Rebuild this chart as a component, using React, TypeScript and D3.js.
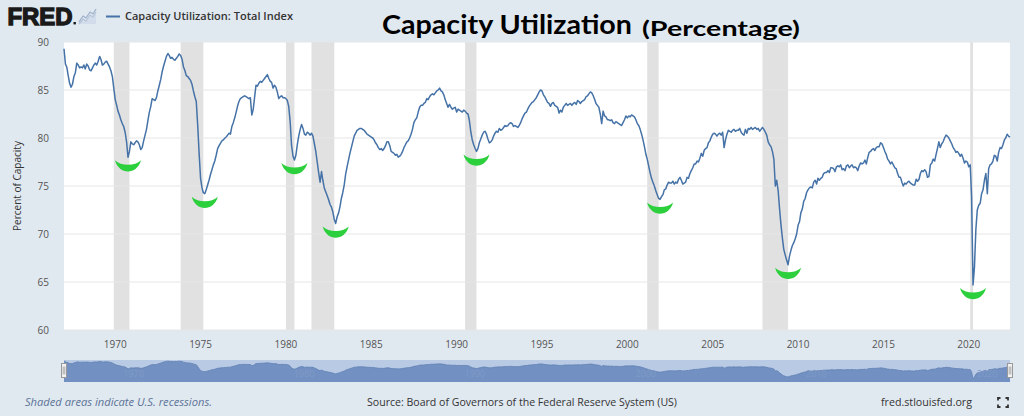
import React from "react";
import * as d3 from "d3";

const WIDTH = 1024;
const HEIGHT = 416;

// Capacity Utilization: Total Index, percent of capacity, monthly from January 1967
const startYear = 1967;
const utilization: number[] = [
  89.3, 87.7, 87.4, 86.5, 85.7, 85.3, 85.6, 86.4, 86.8, 87.8, 87.6, 87.3, // 1967
  87.4, 87.3, 87.6, 87.2, 87.7, 87.5, 87.1, 87.0, 87.3, 87.6, 87.8, 87.6, // 1968
  88.0, 88.5, 88.2, 87.6, 87.7, 87.9, 88.0, 87.7, 87.4, 87.0, 86.4, 85.2, // 1969
  84.0, 83.4, 82.8, 82.4, 81.9, 81.5, 81.2, 80.6, 79.6, 78.0, 78.6, 79.6, // 1970
  79.4, 79.3, 79.5, 79.7, 79.6, 79.3, 78.8, 79.0, 79.7, 80.3, 80.9, 81.8, // 1971
  82.7, 83.3, 84.1, 84.0, 83.9, 84.2, 84.9, 85.5, 86.1, 86.9, 87.5, 88.0, // 1972
  88.5, 88.8, 88.6, 88.3, 88.4, 88.2, 88.1, 88.3, 88.5, 88.75, 88.6, 88.2, // 1973
  87.4, 87.0, 86.5, 86.4, 86.2, 86.0, 85.6, 84.9, 84.3, 83.8, 81.3, 78.4, // 1974
  75.8, 74.8, 74.3, 74.2, 74.6, 75.1, 75.6, 76.2, 76.7, 77.2, 77.6, 78.2, // 1975
  78.9, 79.2, 79.45, 79.7, 79.8, 79.97, 80.1, 80.3, 80.5, 80.4, 81.2, 81.6, // 1976
  82.1, 82.7, 83.3, 83.8, 84.1, 84.2, 84.3, 84.4, 84.3, 84.2, 84.1, 84.2, // 1977
  82.4, 83.0, 84.2, 85.5, 85.4, 85.7, 85.9, 85.8, 86.0, 86.2, 86.4, 86.6, // 1978
  86.2, 85.9, 85.8, 85.2, 85.5, 85.3, 84.8, 84.1, 84.3, 84.4, 84.2, 84.2, // 1979
  84.1, 83.9, 83.3, 81.7, 79.2, 78.1, 77.7, 78.2, 79.3, 80.2, 80.9, 81.4, // 1980
  81.0, 80.4, 80.3, 80.6, 80.5, 80.3, 80.5, 80.2, 79.4, 78.6, 77.5, 76.4, // 1981
  75.4, 76.5, 75.6, 74.8, 74.4, 74.0, 73.6, 73.1, 72.8, 72.3, 71.5, 71.1, // 1982
  71.8, 72.2, 72.8, 73.7, 74.3, 75.1, 76.2, 77.0, 77.7, 78.4, 79.0, 79.6, // 1983
  80.2, 80.5, 80.8, 80.9, 81.0, 81.0, 80.9, 80.8, 80.6, 80.4, 80.3, 80.2, // 1984
  80.1, 80.0, 79.8, 79.5, 79.3, 79.0, 78.8, 78.9, 78.7, 78.9, 79.2, 79.6, // 1985
  79.6, 79.2, 78.6, 78.5, 78.4, 78.2, 78.3, 78.0, 78.1, 78.3, 78.6, 79.0, // 1986
  79.3, 79.6, 79.7, 80.0, 80.4, 80.9, 81.6, 81.9, 82.1, 82.7, 83.2, 83.4, // 1987
  83.4, 83.6, 83.7, 84.1, 84.0, 84.3, 84.5, 84.6, 84.5, 84.7, 84.9, 85.0, // 1988
  85.2, 84.9, 84.8, 84.5, 84.0, 83.6, 83.2, 83.5, 83.2, 83.0, 83.1, 83.2, // 1989
  82.7, 83.0, 82.9, 82.8, 82.7, 82.9, 82.8, 82.6, 82.5, 81.8, 80.6, 79.8, // 1990
  79.3, 78.9, 78.6, 78.9, 79.5, 79.9, 80.3, 80.6, 80.7, 80.4, 79.9, 79.5, // 1991
  79.6, 79.8, 80.2, 80.5, 80.7, 80.6, 81.0, 80.8, 80.9, 81.1, 81.3, 81.2, // 1992
  81.3, 81.5, 81.6, 81.5, 81.2, 81.3, 81.2, 81.1, 81.3, 81.6, 82.0, 82.3, // 1993
  82.6, 82.7, 83.0, 83.3, 83.5, 83.7, 83.8, 84.0, 84.2, 84.5, 84.8, 85.0, // 1994
  84.9, 84.5, 84.3, 84.0, 83.7, 83.6, 83.3, 83.6, 83.7, 83.4, 83.3, 83.2, // 1995
  82.6, 82.9, 82.7, 83.2, 83.4, 83.6, 83.4, 83.5, 83.6, 83.4, 83.6, 83.7, // 1996
  83.5, 83.9, 83.8, 83.6, 83.8, 83.9, 84.0, 84.3, 84.4, 84.6, 84.8, 84.7, // 1997
  84.4, 84.0, 83.6, 83.4, 83.2, 82.5, 81.5, 82.8, 82.3, 82.2, 81.9, 81.9, // 1998
  81.8, 81.9, 81.6, 81.5, 81.7, 81.6, 81.5, 81.4, 81.3, 81.6, 81.9, 82.3, // 1999
  82.1, 82.3, 82.2, 82.4, 82.3, 82.2, 81.9, 81.5, 81.3, 80.9, 80.4, 79.8, // 2000
  79.1, 78.3, 77.8, 77.1, 76.4, 75.8, 75.4, 75.0, 74.5, 74.1, 73.7, 73.6, // 2001
  73.9, 74.1, 74.6, 74.7, 75.1, 75.4, 75.3, 75.3, 75.5, 75.2, 75.4, 75.3, // 2002
  75.7, 75.9, 75.6, 75.2, 75.3, 75.4, 75.9, 75.8, 76.3, 76.6, 76.9, 77.3, // 2003
  77.3, 77.6, 77.5, 77.9, 78.4, 78.1, 78.7, 78.9, 79.0, 79.5, 79.7, 80.1, // 2004
  80.4, 80.5, 80.4, 80.2, 80.4, 80.5, 80.3, 80.6, 79.0, 79.8, 80.4, 80.8, // 2005
  80.7, 80.6, 80.8, 80.9, 80.7, 80.8, 80.8, 81.0, 80.6, 80.4, 80.3, 80.9, // 2006
  80.5, 81.0, 80.9, 81.1, 80.9, 81.0, 81.1, 80.9, 81.0, 80.7, 80.9, 81.1, // 2007
  80.9, 80.6, 80.3, 79.6, 79.3, 79.1, 78.6, 77.8, 75.0, 75.6, 74.5, 72.6, // 2008
  70.9, 69.5, 68.4, 67.8, 67.3, 66.8, 67.7, 68.3, 68.8, 69.1, 69.5, 70.0, // 2009
  70.9, 71.3, 72.2, 72.6, 73.4, 73.7, 74.3, 74.6, 74.8, 74.9, 74.8, 75.4, // 2010
  75.6, 75.2, 75.8, 75.6, 75.8, 75.9, 76.3, 76.4, 76.4, 76.6, 76.4, 76.9, // 2011
  76.9, 76.8, 76.5, 77.0, 77.1, 77.0, 77.2, 76.7, 76.8, 76.6, 77.1, 77.2, // 2012
  76.9, 77.1, 77.2, 76.9, 77.0, 76.9, 76.6, 77.1, 77.4, 77.3, 77.4, 77.7, // 2013
  77.3, 78.0, 78.5, 78.6, 78.8, 78.9, 78.7, 79.0, 79.1, 79.1, 79.5, 79.4, // 2014
  79.0, 78.6, 78.3, 77.8, 77.6, 77.3, 77.5, 77.2, 76.9, 76.8, 76.3, 75.9, // 2015
  75.9, 75.4, 75.0, 75.3, 75.2, 75.4, 75.5, 75.3, 75.2, 75.1, 75.1, 75.7, // 2016
  75.5, 75.7, 76.3, 76.6, 76.5, 76.7, 76.5, 75.9, 76.0, 77.2, 77.4, 77.8, // 2017
  77.6, 78.3, 78.9, 79.6, 79.0, 79.4, 79.6, 80.0, 80.3, 80.2, 80.0, 79.7, // 2018
  79.4, 79.0, 78.8, 78.5, 78.6, 78.4, 78.1, 78.3, 77.9, 77.4, 77.6, 77.5, // 2019
  77.0, 77.2, 73.9, 64.7, 66.5, 70.5, 72.5, 73.0, 73.2, 74.2, 74.6, 75.6, // 2020
  76.3, 74.2, 76.8, 77.2, 77.3, 77.6, 78.2, 78.1, 77.6, 78.5, 79.0, 78.9, // 2021
  79.3, 79.8, 80.0, 80.4, 80.2, 80.1, // 2022
];

// NBER recessions, peak month to trough month
const recessionStarts = ["1969-12", "1973-11", "1980-01", "1981-07", "1990-07", "2001-03", "2007-12", "2020-02"];
const recessionEnds = ["1970-11", "1975-03", "1980-07", "1982-11", "1991-03", "2001-11", "2009-06", "2020-04"];

// Months near each cyclical low that get a green mark underneath
const lowMonths = ["1970-10", "1975-04", "1980-07", "1982-12", "1991-03", "2001-12", "2009-06", "2020-04"];

const yTicks = [60, 65, 70, 75, 80, 85, 90];
const xTickYears = [1970, 1975, 1980, 1985, 1990, 1995, 2000, 2005, 2010, 2015, 2020];
const navLabelYears = [1970, 1980, 1990, 2000, 2010, 2020];

const seriesTitle = "Capacity Utilization: Total Index";
const chartTitle = "Capacity Utilization";
const chartSubtitle = "(Percentage)";
const yAxisTitle = "Percent of Capacity";
const recessionNote = "Shaded areas indicate U.S. recessions.";
const sourceNote = "Source: Board of Governors of the Federal Reserve System (US)";
const siteNote = "fred.stlouisfed.org";

const parseMonth = d3.timeParse("%Y-%m");

const FONT = "'Open Sans', 'Noto Sans', sans-serif";
const LINE_COLOR = "#4572a7";

export default function App() {
  React.useEffect(() => {
    document.body.style.margin = "0";
    document.body.style.overflow = "hidden";
  }, []);

  const plot = { left: 64, right: 1010, top: 42, bottom: 330 };
  const nav = { top: 360, bottom: 382 };

  const dates = utilization.map((_, i) => new Date(startYear, i, 1));

  const x = d3
    .scaleTime()
    .domain([dates[0], dates[dates.length - 1]])
    .range([plot.left, plot.right]);
  const y = d3.scaleLinear().domain([60, 90]).range([plot.bottom, plot.top]);

  const line = d3
    .line<number>()
    .x((_, i) => x(dates[i]))
    .y((d) => y(d));

  const [vMin, vMax] = d3.extent(utilization) as [number, number];
  const navY = d3.scaleLinear().domain([vMin, vMax]).range([nav.bottom - 3.5, nav.top + 0.8]);
  const navArea = d3
    .area<number>()
    .x((_, i) => x(dates[i]))
    .y0(nav.bottom)
    .y1((d) => navY(d));
  const navLine = d3
    .line<number>()
    .x((_, i) => x(dates[i]))
    .y((d) => navY(d));

  // Green crescent under each cyclical low
  const lows = lowMonths.map((m) => {
    const t = parseMonth(m)!;
    const center = d3.minIndex(dates, (d) => Math.abs(+d - +t));
    let best = center;
    for (let k = Math.max(0, center - 3); k <= Math.min(utilization.length - 1, center + 3); k++) {
      if (utilization[k] < utilization[best]) best = k;
    }
    return { cx: x(dates[best]), cy: y(utilization[best]) };
  });
  const crescent = (cx: number, top: number) => {
    const hw = 13;
    return `M${cx - hw},${top} C${cx - 9},${top + 15} ${cx + 9},${top + 15} ${cx + hw},${top} C${cx + 7},${top + 6} ${cx - 7},${top + 6} ${cx - hw},${top} Z`;
  };

  return (
    <svg
      width={WIDTH}
      height={HEIGHT}
      style={{ position: "absolute", left: 0, top: 0, display: "block" }}
      fontFamily={FONT}
    >
      <rect x={0} y={0} width={WIDTH} height={HEIGHT} fill="#e1e9f0" />

      {/* FRED wordmark and small chart icon */}
      <text
        x={7.5}
        y={25}
        fontFamily="'Liberation Sans', Arial, sans-serif"
        fontWeight={700}
        fontSize={24}
        fill="#1a1a1a"
        stroke="#1a1a1a"
        strokeWidth={1.4}
        textLength={65}
        lengthAdjust="spacingAndGlyphs"
      >
        FRED
      </text>
      <rect x={73.5} y={22} width={2.4} height={2.4} fill="#1a1a1a" />
      <g fill="none" strokeLinejoin="round">
        <path d="M79,24 L83,19 L86,21 L90,15 L93,17 L96,12 L96,24 Z" fill="#d2dcea" stroke="none" />
        <path d="M79,22 L83,16 L86,18 L90,12 L93,14 L96,9" stroke="#9fb2cd" strokeWidth={1.3} />
        <path d="M79,24 L83,19 L86,21 L90,15 L93,17 L96,12" stroke="#b6c5da" strokeWidth={1.3} />
      </g>

      {/* Series legend */}
      <line x1={106} x2={120} y1={16.5} y2={16.5} stroke={LINE_COLOR} strokeWidth={2} />
      <text x={125} y={20} fontSize={10} fontWeight={600} fill="#333" textLength={168} lengthAdjust="spacingAndGlyphs">
        {seriesTitle}
      </text>

      {/* Title */}
      <text x={382} y={34} fontFamily="Lato, 'Open Sans', sans-serif" fontWeight={700} fontSize={26} fill="#000" textLength={250} lengthAdjust="spacingAndGlyphs">
        {chartTitle}
      </text>
      <text x={642} y={36} fontFamily="Lato, 'Open Sans', sans-serif" fontWeight={700} fontSize={20} fill="#000" textLength={158} lengthAdjust="spacingAndGlyphs">
        {chartSubtitle}
      </text>

      {/* Plot background */}
      <rect x={plot.left} y={plot.top} width={plot.right - plot.left} height={plot.bottom - plot.top} fill="#ffffff" />

      {/* Recession shading */}
      {recessionStarts.map((s, i) => {
        const x0 = x(parseMonth(s)!);
        const x1 = x(parseMonth(recessionEnds[i])!);
        return <rect key={s} x={x0} y={plot.top} width={x1 - x0} height={plot.bottom - plot.top} fill="#e1e1e1" />;
      })}

      {/* Horizontal grid */}
      {yTicks.map((t) => (
        <line key={t} x1={plot.left} x2={plot.right} y1={y(t)} y2={y(t)} stroke="#e6e6e6" strokeWidth={1} />
      ))}

      {/* Y axis labels */}
      {yTicks.map((t) => (
        <text key={t} x={49} y={y(t) + 3.5} textAnchor="end" fontSize={10} fill="#555">
          {t}
        </text>
      ))}
      <text
        transform={`translate(21,${(plot.top + plot.bottom) / 2}) rotate(-90)`}
        textAnchor="middle"
        fontSize={10}
        fill="#333"
      >
        {yAxisTitle}
      </text>

      {/* X axis labels */}
      {xTickYears.map((yr) => (
        <text key={yr} x={x(new Date(yr, 0, 1))} y={348} textAnchor="middle" fontSize={10} fill="#555">
          {yr}
        </text>
      ))}

      {/* Series line */}
      <path d={line(utilization) ?? ""} fill="none" stroke={LINE_COLOR} strokeWidth={1.5} strokeLinejoin="round" />

      {/* Marks under the lows */}
      {lows.map((p, i) => (
        <path key={i} d={crescent(p.cx, p.cy + 3)} fill="#2ccf3c" />
      ))}

      {/* Navigator */}
      <rect x={plot.left} y={nav.top} width={plot.right - plot.left} height={nav.bottom - nav.top} fill="#b9cbe4" />
      <path d={navArea(utilization) ?? ""} fill="#7291c2" />
      <path d={navLine(utilization) ?? ""} fill="none" stroke="#5f7fb3" strokeWidth={0.8} />
      {navLabelYears.map((yr) => (
        <text key={yr} x={x(new Date(yr, 0, 1)) + 8} y={377} fontSize={9} fill="#7f9ac6">
          {yr}
        </text>
      ))}
      {[plot.left, plot.right].map((hx, i) => (
        <g key={i}>
          <rect x={hx - 2.5} y={363.5} width={5} height={14} fill="#f2f2f2" stroke="#999" strokeWidth={1} />
          <line x1={hx - 0.8} x2={hx - 0.8} y1={366.5} y2={374.5} stroke="#999" strokeWidth={0.8} />
          <line x1={hx + 0.8} x2={hx + 0.8} y1={366.5} y2={374.5} stroke="#999" strokeWidth={0.8} />
        </g>
      ))}

      {/* Footer */}
      <text x={25} y={406} fontSize={10} fontStyle="italic" fill="#5b7397" textLength={187} lengthAdjust="spacingAndGlyphs">
        {recessionNote}
      </text>
      <text x={367} y={406} fontSize={10} fill="#333" textLength={310} lengthAdjust="spacingAndGlyphs">
        {sourceNote}
      </text>
      <text x={881} y={406} fontSize={10} fill="#333" textLength={91} lengthAdjust="spacingAndGlyphs">
        {siteNote}
      </text>
      <path
        d="M998,400.5 V398 H1000.5 M1005.5,398 H1008 V400.5 M1008,404.5 V407 H1005.5 M1000.5,407 H998 V404.5"
        fill="none"
        stroke="#333"
        strokeWidth={1.8}
      />
    </svg>
  );
}
